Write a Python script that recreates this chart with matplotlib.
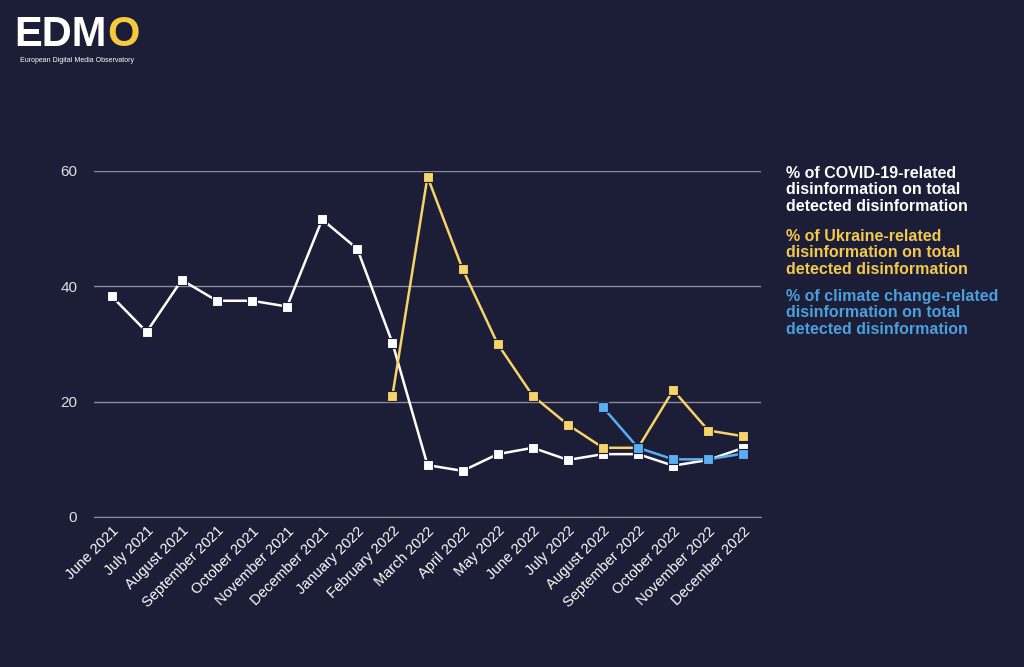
import numpy as np
import matplotlib
matplotlib.use("Agg")
from matplotlib import pyplot as plt

plt.rcParams["font.family"] = ["Liberation Sans", "DejaVu Sans"]

months = ["June 2021", "July 2021", "August 2021", "September 2021", "October 2021",
          "November 2021", "December 2021", "January 2022", "February 2022", "March 2022",
          "April 2022", "May 2022", "June 2022", "July 2022", "August 2022",
          "September 2022", "October 2022", "November 2022", "December 2022"]

covid = [38.3, 32.1, 41.1, 37.5, 37.5, 36.5, 51.6, 46.5, 30.2, 9.0,
         8.0, 10.9, 12.0, 9.9, 10.9, 10.9, 8.9, 9.9, 12.0]
ukraine = [21.0, 59.0, 43.0, 30.0, 21.0, 16.0, 12.0, 12.0, 22.0, 15.0, 14.0]   # from February 2022
climate = [19.0, 12.0, 10.0, 10.0, 11.0]   # from August 2022

labels = ["% of COVID-19-related\ndisinformation on total\ndetected disinformation",
          "% of Ukraine-related\ndisinformation on total\ndetected disinformation",
          "% of climate change-related\ndisinformation on total\ndetected disinformation"]

bg = "#1c1d37"
c_white = "#ffffff"
c_yellow = "#f6d468"
c_blue = "#5aaef2"
c_yellow_txt = "#f2c94c"
c_blue_txt = "#4a9fdc"

fig = plt.figure(figsize=(10.24, 6.67), dpi=100, facecolor=bg)
ax = fig.add_axes([94 / 1024, 150 / 667, (761 - 94) / 1024, 346 / 667])
ax.set_facecolor(bg)

x = np.arange(len(months))
ax.plot(x, covid, color=c_white, lw=1.8, marker="s", ms=7, mec=bg, mew=0.8, clip_on=False, zorder=3)
ax.plot(x[8:], ukraine, color=c_yellow, lw=1.8, marker="s", ms=7, mec=bg, mew=0.8, clip_on=False, zorder=4)
ax.plot(x[14:], climate, color=c_blue, lw=1.8, marker="s", ms=7, mec=bg, mew=0.8, clip_on=False, zorder=5)

ax.set_xlim(-0.5, len(months) - 0.5)
ax.set_ylim(0, 60)
ax.set_yticks([0, 20, 40, 60])
ax.yaxis.grid(True, color="#8c8c9c", lw=1)
ax.set_axisbelow(True)
for s in ["top", "right", "left"]:
    ax.spines[s].set_visible(False)
ax.spines["bottom"].set_color("#8c8c9c")
ax.tick_params(axis="y", length=0, colors="#e0e0e6", labelsize=11, pad=12)
ax.tick_params(axis="x", length=0, colors="#ffffff", labelsize=10.5, pad=5)
ax.set_xticks(x)
ax.set_xticklabels(months, rotation=45, ha="right", rotation_mode="anchor")

# legend as text blocks
for lab, col, ytop in zip(labels, [c_white, c_yellow_txt, c_blue_txt], [166, 229, 289]):
    fig.text(786 / 1024, 1 - ytop / 667, lab, color=col, fontsize=11.5, fontweight="bold",
             va="top", ha="left", linespacing=1.12)

# logo
edm = fig.text(14 / 1024, 1 - 46 / 667, "EDM", color="white", fontsize=30, fontweight="bold",
               va="baseline", ha="left")
fig.canvas.draw()
bb = edm.get_window_extent()
fig.text(bb.x1 / 1024 + 0.001, 1 - 46 / 667, "O", color="#f6c93f", fontsize=30, fontweight="bold",
         va="baseline", ha="left")
fig.text(20 / 1024, 1 - 62 / 667, "European Digital Media Observatory", color="white", fontsize=5,
         va="baseline", ha="left")

fig.savefig("out.png", dpi=100, facecolor=bg)
